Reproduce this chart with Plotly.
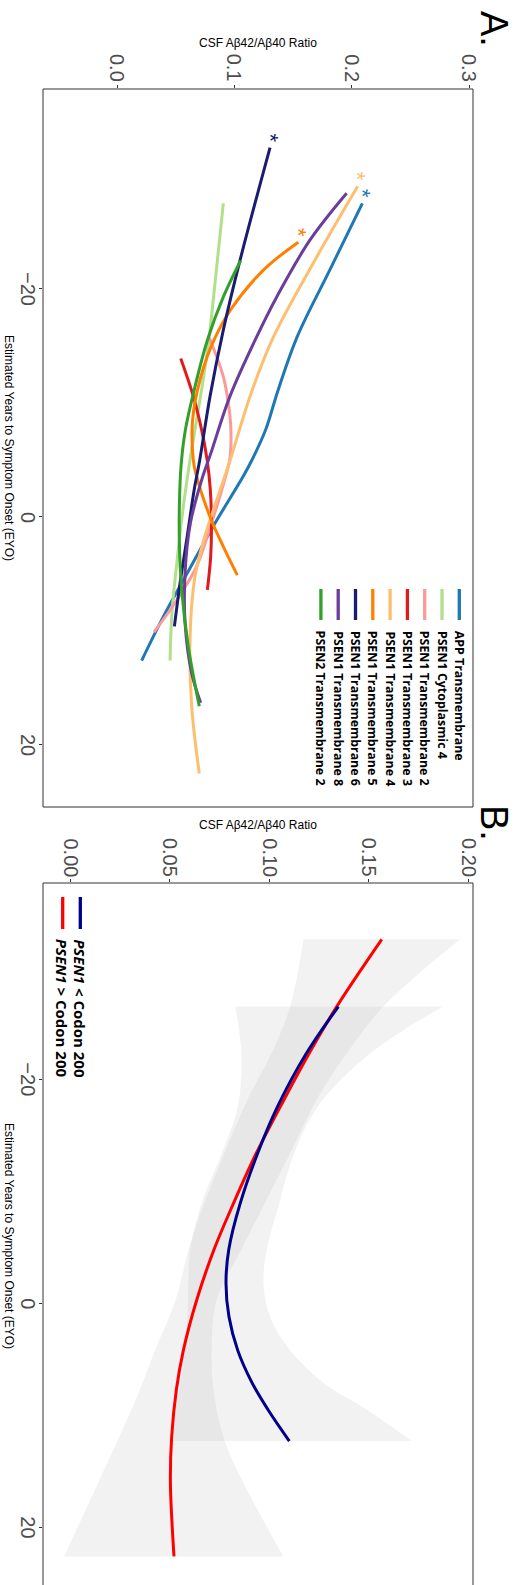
import plotly.graph_objects as go

W, H = 530, 1585

# ---------------- Panel A: CSF Abeta42/40 trajectories by mutation domain ----------------
domain_names = [
    "APP Transmembrane",
    "PSEN1 Cytoplasmic 4",
    "PSEN1 Transmembrane 2",
    "PSEN1 Transmembrane 3",
    "PSEN1 Transmembrane 4",
    "PSEN1 Transmembrane 5",
    "PSEN1 Transmembrane 6",
    "PSEN1 Transmembrane 8",
    "PSEN2 Transmembrane 2",
]
domain_colors = ["#1F78B4", "#B2DF8A", "#FB9A99", "#E31A1C", "#FDBF6F",
                 "#FF7F00", "#1B1B72", "#6A3D9A", "#33A02C"]

# estimated years to symptom onset (EYO) and CSF ratio for each fitted curve
app_tm_eyo = [-27.5, -21.7, -15.8, -11.1, -7.6, -5.0, -3.5, 0.55, 4.9, 8.7, 12.6]
app_tm_ratio = [0.2091, 0.1815, 0.1535, 0.1372, 0.1265, 0.1150, 0.1072, 0.0835, 0.0600, 0.0397, 0.0210]

ps1_cyt4_eyo = [-27.5, -20.8, -14.9, -10.6, -5.0, -0.9, 4.1, 8.4, 12.6]
ps1_cyt4_ratio = [0.0906, 0.0838, 0.0775, 0.0712, 0.0622, 0.0565, 0.0509, 0.0468, 0.0452]

ps1_tm2_eyo = [-15.7, -12.3, -9.1, -7.0, -5.0, -3.0, 0.85, 4.4, 7.3, 10.1]
ps1_tm2_ratio = [0.0787, 0.0906, 0.0960, 0.0972, 0.0960, 0.0910, 0.0795, 0.0675, 0.0509, 0.0315]

ps1_tm3_eyo = [-13.9, -10.6, -7.6, -5.0, -2.4, 0.55, 3.5, 6.4]
ps1_tm3_ratio = [0.0543, 0.0650, 0.0722, 0.0768, 0.0795, 0.0805, 0.0798, 0.0770]

ps1_tm4_eyo = [-29.0, -22.8, -15.8, -10.6, -5.0, -2.4, 2.0, 5.5, 10.8, 16.6, 22.5]
ps1_tm4_ratio = [0.2051, 0.1702, 0.1333, 0.1134, 0.0965, 0.0880, 0.0740, 0.0660, 0.0622, 0.0636, 0.0701]

ps1_tm5_eyo = [-24.1, -21.7, -18.2, -14.9, -11.1, -8.2, -5.0, -3.8, 0.0, 2.6, 5.1]
ps1_tm5_ratio = [0.1545, 0.1252, 0.0970, 0.0800, 0.0685, 0.0642, 0.0650, 0.0672, 0.0793, 0.0906, 0.1025]

ps1_tm6_eyo = [-32.4, -22.5, -16.4, -10.6, -5.0, -2.4, 2.0, 5.8, 9.6]
ps1_tm6_ratio = [0.1304, 0.1048, 0.0906, 0.0793, 0.0705, 0.0658, 0.0594, 0.0537, 0.0489]

ps1_tm8_eyo = [-28.4, -24.3, -19.3, -15.8, -10.6, -5.6, -3.2, 0.55, 4.9, 9.3, 13.7, 16.3]
ps1_tm8_ratio = [0.1957, 0.1645, 0.1361, 0.1190, 0.0963, 0.0800, 0.0720, 0.0625, 0.0580, 0.0580, 0.0636, 0.0713]

ps2_tm2_eyo = [-22.5, -19.3, -15.5, -10.6, -7.6, -5.0, -2.4, 2.0, 6.4, 11.4, 16.6]
ps2_tm2_ratio = [0.1054, 0.0906, 0.0770, 0.0645, 0.0582, 0.0550, 0.0535, 0.0531, 0.0551, 0.0608, 0.0701]

domain_eyo = [app_tm_eyo, ps1_cyt4_eyo, ps1_tm2_eyo, ps1_tm3_eyo, ps1_tm4_eyo,
              ps1_tm5_eyo, ps1_tm6_eyo, ps1_tm8_eyo, ps2_tm2_eyo]
domain_ratio = [app_tm_ratio, ps1_cyt4_ratio, ps1_tm2_ratio, ps1_tm3_ratio, ps1_tm4_ratio,
                ps1_tm5_ratio, ps1_tm6_ratio, ps1_tm8_ratio, ps2_tm2_ratio]
# domains whose decline is flagged as significant
flagged = ["APP Transmembrane", "PSEN1 Transmembrane 4",
           "PSEN1 Transmembrane 5", "PSEN1 Transmembrane 6"]

ratio_ticks_a = [0.0, 0.1, 0.2, 0.3]
ratio_ticktext_a = ["0.0", "0.1", "0.2", "0.3"]

# ---------------- Panel B: PSEN1 codon 200 split with confidence bands ----------------
codon_names = ["<i>PSEN1</i> &lt; Codon 200", "<i>PSEN1</i> &gt; Codon 200"]
codon_colors = ["#00008B", "#FF0000"]

before_eyo = [-26.5, -22.3, -17.6, -13.4, -8.9, -4.8, -1.8, 1.2, 4.2, 7.1, 9.5, 12.3]
before_fit = [0.1347, 0.1186, 0.1043, 0.0942, 0.0854, 0.0797, 0.0783, 0.0798, 0.0842, 0.0914, 0.0994, 0.1101]
before_lo = [0.0830, 0.0860, 0.0843, 0.0762, 0.0660, 0.0603, 0.0594, 0.0590, 0.0577, 0.0555, 0.0530, 0.0519]
before_hi = [0.1871, 0.1506, 0.1245, 0.1125, 0.1050, 0.0988, 0.0971, 0.1004, 0.1105, 0.1272, 0.1490, 0.1716]

after_eyo = [-32.5, -26.5, -22.3, -18.2, -13.4, -8.9, -4.8, -0.3, 4.2, 7.7, 12.0, 16.0, 22.6]
after_fit = [0.1565, 0.1339, 0.1200, 0.1075, 0.0935, 0.0820, 0.0723, 0.0636, 0.0569, 0.0534, 0.0510, 0.0504, 0.0522]
after_lo = [0.1172, 0.1105, 0.1011, 0.0891, 0.0775, 0.0673, 0.0595, 0.0530, 0.0427, 0.0351, 0.0245, 0.0142, -0.0030]
after_hi = [0.1958, 0.1573, 0.1389, 0.1239, 0.1105, 0.0977, 0.0860, 0.0736, 0.0711, 0.0720, 0.0771, 0.0870, 0.1071]

ratio_ticks_b = [0.00, 0.05, 0.10, 0.15, 0.20]
ratio_ticktext_b = ["0.00", "0.05", "0.10", "0.15", "0.20"]

eyo_ticks = [-20, 0, 20]
eyo_ticktext = ["\u221220", "0", "20"]


def px(x):
    return x / W


def py(y):
    return 1 - y / H


fig = go.Figure()

# panel A curves
for name, color, e, r in zip(domain_names, domain_colors, domain_eyo, domain_ratio):
    fig.add_trace(go.Scatter(
        x=r, y=e, mode="lines", name=name, showlegend=False,
        line=dict(color=color, width=3, shape="spline", smoothing=1.0),
        xaxis="x", yaxis="y", hoverinfo="skip"))

# panel B bands (lower edge, then upper edge filled back to it)
band_fill = "rgba(190,190,190,0.2)"
for e, lo, hi in [(after_eyo, after_lo, after_hi), (before_eyo, before_lo, before_hi)]:
    fig.add_trace(go.Scatter(x=lo, y=e, mode="lines", line=dict(width=0, shape="spline"),
                             showlegend=False, xaxis="x2", yaxis="y2", hoverinfo="skip"))
    fig.add_trace(go.Scatter(x=hi, y=e, mode="lines", line=dict(width=0, shape="spline"),
                             fill="tonextx", fillcolor=band_fill,
                             showlegend=False, xaxis="x2", yaxis="y2", hoverinfo="skip"))

# panel B fitted curves
for e, fit, color in [(after_eyo, after_fit, codon_colors[1]), (before_eyo, before_fit, codon_colors[0])]:
    fig.add_trace(go.Scatter(x=fit, y=e, mode="lines", showlegend=False,
                             line=dict(color=color, width=3, shape="spline", smoothing=1.0),
                             xaxis="x2", yaxis="y2", hoverinfo="skip"))

annotations = []
shapes = []

# significance markers at the start of flagged curves
for name, color, e, r in zip(domain_names, domain_colors, domain_eyo, domain_ratio):
    if name in flagged:
        annotations.append(dict(
            x=r[0], y=e[0], xref="x", yref="y", text="*", showarrow=False,
            textangle=90, xshift=0, yshift=10,
            font=dict(family="Liberation Sans", size=22, color=color)))

# plot frames
shapes.append(dict(type="rect", xref="x domain", yref="y domain", x0=0, x1=1, y0=0, y1=1,
                   line=dict(color="#333333", width=1)))
shapes.append(dict(type="rect", xref="x2 domain", yref="y2 domain", x0=0, x1=1, y0=-0.05, y1=1,
                   line=dict(color="#333333", width=1)))

legend_font_a = dict(family="Open Sans", size=12.4, color="#000000")
legend_font_b = dict(family="Open Sans", size=15, color="#000000")

# panel A legend (vertical keys, rotated labels)
for i, (name, color) in enumerate(zip(domain_names, domain_colors)):
    cx = 459.3 - 17.3 * i
    shapes.append(dict(type="line", xref="paper", yref="paper",
                       x0=px(cx), x1=px(cx), y0=py(589), y1=py(620),
                       line=dict(color=color, width=3.3)))
    annotations.append(dict(x=px(cx), y=py(629), xref="paper", yref="paper",
                            text="<b>" + name + "</b>", showarrow=False, textangle=90,
                            xanchor="center", yanchor="top", font=legend_font_a))

# panel B legend
for i, (name, color) in enumerate(zip(codon_names, codon_colors)):
    cx = 80.3 - 17.6 * i
    shapes.append(dict(type="line", xref="paper", yref="paper",
                       x0=px(cx), x1=px(cx), y0=py(897), y1=py(929),
                       line=dict(color=color, width=3.3)))
    annotations.append(dict(x=px(cx), y=py(937), xref="paper", yref="paper",
                            text="<b>" + name + "</b>", showarrow=False, textangle=90,
                            xanchor="center", yanchor="top", font=legend_font_b))

# tick labels, rotated with the rest of the text
tick_font = dict(family="Liberation Sans", size=20, color="#4D4D4D")
for xa, ticks, texts, ybottom in [("x", ratio_ticks_a, ratio_ticktext_a, 84),
                                  ("x2", ratio_ticks_b, ratio_ticktext_b, 879)]:
    for v, t in zip(ticks, texts):
        annotations.append(dict(x=v, y=py(ybottom), xref=xa, yref="paper", text=t,
                                showarrow=False, textangle=90, xanchor="center",
                                yanchor="bottom", font=tick_font))
for ya in ["y", "y2"]:
    for v, t in zip(eyo_ticks, eyo_ticktext):
        annotations.append(dict(x=px(41), y=v, xref="paper", yref=ya, text=t,
                                showarrow=False, textangle=90, xanchor="right",
                                yanchor="middle", font=tick_font))

# axis titles and panel letters
title_font = dict(family="Liberation Sans", size=12, color="#000000")
for yc in [43, 825]:
    annotations.append(dict(x=px(258), y=py(yc), xref="paper", yref="paper",
                            text="CSF A\u03b242/A\u03b240 Ratio", showarrow=False,
                            xanchor="center", yanchor="middle", font=title_font))
for yc in [448, 1236]:
    annotations.append(dict(x=px(9), y=py(yc), xref="paper", yref="paper",
                            text="Estimated Years to Symptom Onset (EYO)", showarrow=False,
                            textangle=90, xanchor="center", yanchor="middle", font=title_font))
for label, yc in [("A.", 29), ("B.", 823)]:
    annotations.append(dict(x=px(494), y=py(yc), xref="paper", yref="paper",
                            text=label, showarrow=False, textangle=90,
                            xanchor="center", yanchor="middle",
                            font=dict(family="Liberation Sans", size=38, color="#000000")))

common_axis = dict(showgrid=False, zeroline=False, showline=False, ticks="outside",
                   ticklen=3, tickwidth=1, tickcolor="#333333", showticklabels=False,
                   tickmode="array")

fig.update_layout(
    width=W, height=H,
    margin=dict(l=0, r=0, t=0, b=0),
    paper_bgcolor="white", plot_bgcolor="white",
    showlegend=False,
    xaxis=dict(domain=[px(43), px(473)], range=[-0.0631, 0.3034], side="top", anchor="y",
               tickvals=ratio_ticks_a, **common_axis),
    yaxis=dict(domain=[py(807), py(89)], range=[25.44, -37.54], anchor="x",
               tickvals=eyo_ticks, **common_axis),
    xaxis2=dict(domain=[px(43), px(473)], range=[-0.01356, 0.2023], side="top", anchor="y2",
                tickvals=ratio_ticks_b, **common_axis),
    yaxis2=dict(domain=[0, py(883)], range=[25.15, -37.53], anchor="x2",
                tickvals=eyo_ticks, **common_axis),
    annotations=annotations,
    shapes=shapes,
)

fig.write_html("out.html")
